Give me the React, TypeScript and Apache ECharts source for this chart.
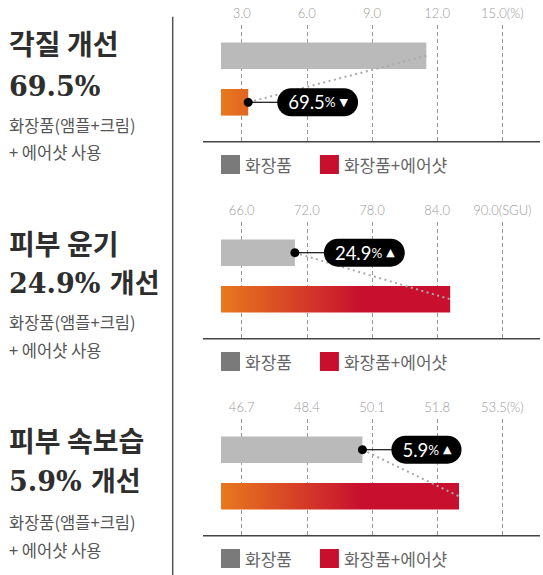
import React, { useEffect, useRef } from 'react';
import * as echarts from 'echarts';

// ---------- data ----------
const categories = ['화장품', '화장품+에어샷'];
const legendNames = ['화장품', '화장품+에어샷'];

const tickValues1 = [3.0, 6.0, 9.0, 12.0, 15.0];
const tickValues2 = [66.0, 72.0, 78.0, 84.0, 90.0];
const tickValues3 = [46.7, 48.4, 50.1, 51.8, 53.5];
const tickSets = [tickValues1, tickValues2, tickValues3];
const tickUnits = ['(%)', '(SGU)', '(%)'];

const cosmeticsValues = [11.5, 70.9, 49.85];
const airshotValues = [3.3, 85.2, 52.37];

const headings = ['각질 개선', '피부 윤기', '피부 속보습'];
const headlineNumbers = ['69.5%', '24.9% 개선', '5.9% 개선'];
const subLine1 = '화장품(앰플+크림)';
const subLine2 = '+ 에어샷 사용';

const changeValues = ['69.5', '24.9', '5.9'];
const changeArrows = ['▼', '▲', '▲'];
const calloutAnchors = [1, 0, 0]; // which bar the callout dot sits on

// ---------- layout ----------
const PLOT_L = 221;
const PLOT_R = 540;
const FIRST_TICK_X = 241.7;
const TICK_STEP_PX = 65.15;
const BLOCK_Y = [0, 197, 394];
const AXIS_TOP = 25;
const AXIS_BOTTOM = 141.7;
const BAR_TOP = 32.4;
const BAR_H = 93.2;
const LEGEND_TOP = 155;
const LEFT_TEXT_Y = [
  [43.3, 86, 125, 151.7],
  [243.3, 283.3, 321.7, 350],
  [440, 481.7, 521.7, 550],
];

const KR = '"Noto Sans CJK KR", "Noto Sans", sans-serif';

export default function App() {
  const ref = useRef<HTMLDivElement>(null);

  useEffect(() => {
    document.body.style.margin = '0';
    const chart = echarts.init(ref.current!, null, { renderer: 'svg' });

    const redGradient = new echarts.graphic.LinearGradient(
      PLOT_L, 0, 360, 0,
      [
        { offset: 0, color: '#e8781e' },
        { offset: 1, color: '#c8102e' },
      ],
      true
    );

    const grids: any[] = [];
    const xAxes: any[] = [];
    const yAxes: any[] = [];
    const series: any[] = [];
    const legends: any[] = [];

    tickSets.forEach((ticks, k) => {
      const off = BLOCK_Y[k];
      const step = ticks[1] - ticks[0];
      const min = ticks[0] - ((FIRST_TICK_X - PLOT_L) / TICK_STEP_PX) * step;
      const max = ticks[0] + ((PLOT_R - FIRST_TICK_X) / TICK_STEP_PX) * step;
      const last = ticks[ticks.length - 1];

      grids.push({
        left: PLOT_L,
        width: PLOT_R - PLOT_L,
        top: AXIS_TOP + off,
        height: AXIS_BOTTOM - AXIS_TOP,
        containLabel: false,
        outerBoundsMode: 'none',
      });
      grids.push({
        left: PLOT_L,
        width: PLOT_R - PLOT_L,
        top: BAR_TOP + off,
        height: BAR_H,
        containLabel: false,
        outerBoundsMode: 'none',
      });

      xAxes.push({
        gridIndex: 2 * k,
        type: 'value',
        position: 'top',
        min,
        max,
        axisLine: { show: false },
        axisTick: { show: false, customValues: ticks },
        axisLabel: {
          customValues: ticks,
          margin: 6,
          color: '#9a9a9a',
          fontSize: 13,
          fontFamily: 'Lato, sans-serif',
          fontWeight: 300,
          formatter: (v: number) =>
            Math.abs(v - last) < 1e-6 ? v.toFixed(1) + tickUnits[k] : v.toFixed(1),
        },
        splitLine: {
          show: true,
          lineStyle: { color: '#999', width: 1, type: [4, 3] },
        },
      });
      xAxes.push({
        gridIndex: 2 * k + 1,
        type: 'value',
        min,
        max,
        show: false,
      });
      yAxes.push({
        gridIndex: 2 * k,
        type: 'category',
        data: categories,
        show: false,
      });
      yAxes.push({
        gridIndex: 2 * k + 1,
        type: 'category',
        data: categories,
        inverse: true,
        show: false,
      });

      series.push({
        type: 'bar',
        name: legendNames[0],
        xAxisIndex: 2 * k + 1,
        yAxisIndex: 2 * k + 1,
        data: [cosmeticsValues[k], '-'],
        barWidth: 26.6,
        barGap: '-100%',
        itemStyle: { color: '#bababa' },
        silent: true,
      });
      series.push({
        type: 'bar',
        name: legendNames[1],
        xAxisIndex: 2 * k + 1,
        yAxisIndex: 2 * k + 1,
        data: ['-', airshotValues[k]],
        barWidth: 26.6,
        barGap: '-100%',
        itemStyle: { color: redGradient },
        silent: true,
      });

      legends.push({
        left: PLOT_L,
        top: LEGEND_TOP + off,
        padding: 0,
        itemWidth: 19,
        itemHeight: 19,
        itemGap: 28,
        icon: 'rect',
        selectedMode: false,
        textStyle: { fontSize: 17, color: '#666', fontFamily: KR },
        data: [
          { name: legendNames[0], itemStyle: { color: '#7a7a7a' } },
          { name: legendNames[1], itemStyle: { color: '#c8102e' } },
        ],
      });
    });

    chart.setOption({
      animation: false,
      backgroundColor: '#fff',
      grid: grids,
      xAxis: xAxes,
      yAxis: yAxes,
      series,
      legend: legends,
    });

    // ---------- graphic overlay ----------
    const graphics: any[] = [];
    graphics.push({
      type: 'line',
      shape: { x1: 172.7, y1: 16.7, x2: 172.7, y2: 575 },
      style: { stroke: '#555', lineWidth: 1.5 },
      z: 100,
    });

    tickSets.forEach((_, k) => {
      const off = BLOCK_Y[k];
      const ys = LEFT_TEXT_Y[k];
      graphics.push({
        type: 'line',
        shape: { x1: 203, y1: AXIS_BOTTOM + off, x2: PLOT_R, y2: AXIS_BOTTOM + off },
        style: { stroke: '#444', lineWidth: 1.5 },
        z: 100,
      });
      graphics.push({
        type: 'text',
        x: 9,
        y: ys[0],
        style: {
          text: headings[k],
          font: `bold 28px ${KR}`,
          fill: '#2e2e2e',
          verticalAlign: 'middle',
          align: 'left',
        },
        z: 100,
      });
      graphics.push({
        type: 'text',
        x: 9,
        y: ys[1],
        style: {
          text: headlineNumbers[k],
          font: `bold 27px "DejaVu Serif", "Noto Sans CJK KR", serif`,
          fill: '#2e2e2e',
          verticalAlign: 'middle',
          align: 'left',
        },
        z: 100,
      });
      graphics.push({
        type: 'text',
        x: 9,
        y: ys[2],
        style: {
          text: subLine1,
          font: `16.5px ${KR}`,
          fill: '#555',
          verticalAlign: 'middle',
          align: 'left',
        },
        z: 100,
      });
      graphics.push({
        type: 'text',
        x: 9,
        y: ys[3],
        style: {
          text: subLine2,
          font: `16.5px ${KR}`,
          fill: '#555',
          verticalAlign: 'middle',
          align: 'left',
        },
        z: 100,
      });

      const finder = { xAxisIndex: 2 * k + 1, yAxisIndex: 2 * k + 1 };
      const grayEnd = chart.convertToPixel(finder, [cosmeticsValues[k], 0]) as number[];
      const redEnd = chart.convertToPixel(finder, [airshotValues[k], 1]) as number[];
      const dot = calloutAnchors[k] === 0 ? grayEnd : redEnd;

      graphics.push({
        type: 'line',
        shape: { x1: grayEnd[0], y1: grayEnd[1], x2: redEnd[0], y2: redEnd[1] },
        style: { stroke: '#aaaaaa', lineWidth: 2, lineDash: [2, 3.5] },
        z: 101,
      });
      graphics.push({
        type: 'line',
        shape: { x1: dot[0], y1: dot[1], x2: dot[0] + 30, y2: dot[1] },
        style: { stroke: '#111', lineWidth: 1.2 },
        z: 102,
      });
      graphics.push({
        type: 'circle',
        shape: { cx: dot[0], cy: dot[1], r: 4.5 },
        style: { fill: '#000' },
        z: 103,
      });
      graphics.push({
        type: 'text',
        x: dot[0] + 29,
        y: dot[1],
        style: {
          text: `{n|${changeValues[k]}}{p|%}{a|${changeArrows[k]}}`,
          font: '13px Lato, sans-serif',
          fill: '#fff',
          backgroundColor: '#000',
          borderRadius: 14,
          padding: [4, 10, 4, 11],
          verticalAlign: 'middle',
          align: 'left',
          rich: {
            n: { fontSize: 18.5, fontFamily: 'Lato, sans-serif', fill: '#fff', lineHeight: 20 },
            p: { fontSize: 13.5, fontFamily: 'Lato, sans-serif', fill: '#fff', lineHeight: 20 },
            a: {
              fontSize: 11,
              fontFamily: '"DejaVu Sans", sans-serif',
              fill: '#fff',
              lineHeight: 20,
              padding: [0, 0, 0, 4],
            },
          },
        },
        z: 104,
      });
    });

    chart.setOption({ graphic: graphics });

    return () => chart.dispose();
  }, []);

  return <div ref={ref} style={{ width: 543, height: 575 }} />;
}
